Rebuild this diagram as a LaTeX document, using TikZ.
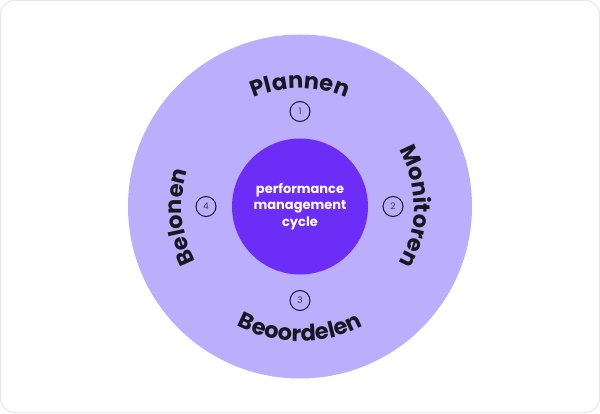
\documentclass[tikz,border=0pt]{standalone}
\usepackage{fontspec}
\setmainfont{Poppins}
\usetikzlibrary{decorations.text,calc}
\definecolor{outerc}{RGB}{187,174,252}
\definecolor{innerc}{RGB}{108,46,246}
\definecolor{inkc}{RGB}{24,22,30}
\definecolor{framec}{RGB}{230,230,232}
\begin{document}
\begin{tikzpicture}[x=1pt,y=1pt,
  numc/.style={circle,draw=inkc,line width=1pt,minimum size=20pt,inner sep=0pt,text=inkc!85,font=\fontsize{9}{9}\selectfont},
  curvetext/.style={decorate,decoration={text along path,text align=center,text color=inkc,text={|\fontsize{22.5}{22.5}\bfseries|#1}}}]
\useasboundingbox (0,0) rectangle (600,413);
\draw[framec,fill=white,line width=1pt,rounded corners=14pt] (0.5,0.5) rectangle (599.5,412.5);
\coordinate (C) at (300,206.5);
\node[circle,fill=outerc,minimum size=344pt,inner sep=0pt] (outer) at (C) {};
\node[circle,fill=innerc,minimum size=136pt,inner sep=0pt,text=white,align=center,font=\fontsize{13}{16.5}\bfseries] (inner) at (C) {performance\\management\\cycle};
\node[numc] (n1) at ($(C)+(90:95)$) {1};
\node[numc] (n2) at ($(C)+(0:93)$) {2};
\node[numc] (n3) at ($(C)+(270:94)$) {3};
\node[numc] (n4) at ($(C)+(180:94)$) {4};
\path[curvetext={Plannen}] ($(C)+(150:118)$) arc[start angle=150,end angle=30,radius=118pt];
\path[curvetext={Monitoren}] ($(C)+(60:114)$) arc[start angle=60,end angle=-60,radius=114pt];
\path[curvetext={Belonen}] ($(C)+(245:118)$) arc[start angle=245,end angle=125,radius=118pt];
\path[curvetext={Beoordelen}] ($(C)+(210:135)$) arc[start angle=210,end angle=330,radius=135pt];
\end{tikzpicture}
\end{document}
